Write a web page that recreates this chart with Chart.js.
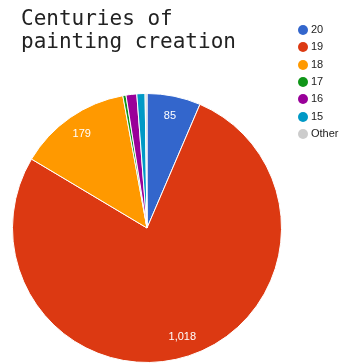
<!DOCTYPE html>
<html>
<head>
<meta charset="utf-8">
<script src="https://cdn.jsdelivr.net/npm/chart.js@4/dist/chart.umd.min.js"></script>
<style>
  html, body { margin: 0; padding: 0; background: #fff; }
  #wrap { position: relative; width: 342px; height: 364px; overflow: hidden; }
  #c { position: absolute; left: 0; top: 0; }
  #title { position: absolute; left: 21px; top: 7px; font-family: "DejaVu Sans Mono", monospace; font-size: 21px; line-height: 23px; color: #222; white-space: pre; }
  #legend { position: absolute; left: 298px; top: 0; font-family: "Liberation Sans", Arial, sans-serif; font-size: 11px; color: #222; }
  .item { position: absolute; left: 0; height: 12px; white-space: nowrap; }
  .dot { position: absolute; left: 0; top: 1px; width: 10px; height: 10px; border-radius: 50%; }
  .lab { position: absolute; left: 13px; top: -1px; line-height: 13px; }
</style>
</head>
<body>
<div id="wrap">
  <canvas id="c" width="342" height="364"></canvas>
  <div id="title"></div>
  <div id="legend"></div>
</div>
<script>
const categories = ["20", "19", "18", "17", "16", "15", "Other"];
const values = [85, 1018, 179, 5, 17, 13, 3];
const colors = ["#3366cc", "#dc3912", "#ff9900", "#109618", "#990099", "#0099c6", "#cccccc"];
const titleLines = ["Centuries of", "painting creation"];

// legend (HTML text built from the arrays)
const legend = document.getElementById('legend');
categories.forEach((cat, i) => {
  const it = document.createElement('div');
  it.className = 'item';
  it.style.top = (24 + i * 17.3) + 'px';
  const d = document.createElement('div');
  d.className = 'dot';
  d.style.background = colors[i];
  const t = document.createElement('div');
  t.className = 'lab';
  t.textContent = cat;
  it.appendChild(d); it.appendChild(t);
  legend.appendChild(it);
});
document.getElementById('title').textContent = titleLines.join('\n');

const sliceLabels = {
  id: 'sliceLabels',
  afterDatasetsDraw(chart) {
    const ctx = chart.ctx;
    const meta = chart.getDatasetMeta(0);
    const total = values.reduce((a, b) => a + b, 0);
    ctx.save();
    ctx.fillStyle = '#ffffff';
    ctx.font = '11px "Liberation Sans", Arial, sans-serif';
    ctx.textAlign = 'center';
    ctx.textBaseline = 'middle';
    meta.data.forEach((arc, i) => {
      if (values[i] / total < 0.05) return;
      const p = arc.getProps(['x', 'y', 'startAngle', 'endAngle', 'outerRadius'], true);
      const mid = (p.startAngle + p.endAngle) / 2;
      const r = p.outerRadius * 0.85;
      ctx.fillText(values[i].toLocaleString('en-US'), p.x + Math.cos(mid) * r, p.y + Math.sin(mid) * r);
    });
    ctx.restore();
  }
};

new Chart(document.getElementById('c'), {
  type: 'pie',
  data: {
    labels: categories,
    datasets: [{
      data: values,
      backgroundColor: colors,
      borderColor: '#ffffff',
      borderWidth: 1
    }]
  },
  options: {
    responsive: false,
    animation: false,
    layout: { padding: { left: 12, right: 60, top: 93, bottom: 1 } },
    plugins: {
      legend: { display: false },
      title: { display: false },
      tooltip: { enabled: false }
    }
  },
  plugins: [sliceLabels]
});
</script>
</body>
</html>
